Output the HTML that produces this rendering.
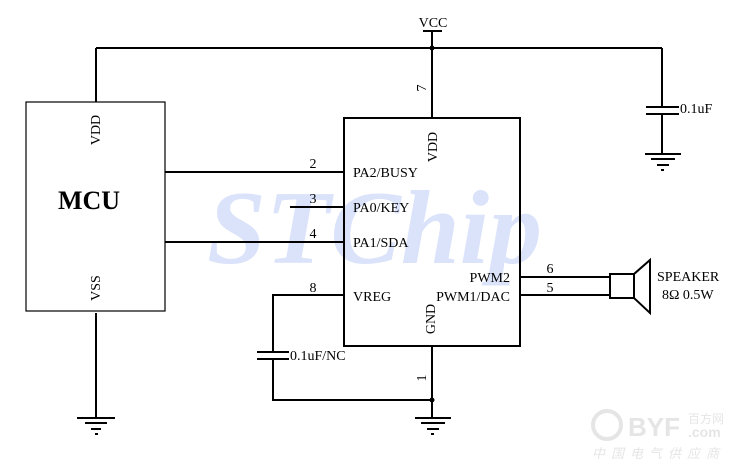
<!DOCTYPE html>
<html><head><meta charset="utf-8"><style>
html,body{margin:0;padding:0;background:#fff;}
svg{display:block;}
text{font-family:"Liberation Serif",serif;font-size:14px;fill:#000;}
</style></head><body>
<svg width="745" height="467" viewBox="0 0 745 467" xmlns="http://www.w3.org/2000/svg">
<!-- watermark -->
<text x="207" y="263" textLength="335" lengthAdjust="spacingAndGlyphs" style="font-family:'Liberation Serif',serif;font-style:italic;font-weight:bold;font-size:105px;fill:#dbe3fb;">STChip</text>
<g fill="none" stroke="#000" stroke-width="2">
<line x1="96" y1="48" x2="662" y2="48"/>
<line x1="423" y1="31" x2="442" y2="31"/>
<line x1="432" y1="31" x2="432" y2="118"/>
<line x1="96" y1="48" x2="96" y2="102"/>
<line x1="662" y1="48" x2="662" y2="107"/>
<line x1="646" y1="107" x2="679" y2="107"/>
<line x1="646" y1="114" x2="679" y2="114"/>
<line x1="662" y1="114" x2="662" y2="154"/>
<line x1="645" y1="154" x2="681" y2="154"/>
<line x1="651" y1="159" x2="675" y2="159"/>
<line x1="657" y1="165" x2="669" y2="165"/>
<line x1="661" y1="170" x2="664" y2="170"/>
<rect x="26" y="102" width="139" height="209" stroke-width="1.2"/>
<line x1="96" y1="313" x2="96" y2="418"/>
<line x1="77" y1="418" x2="115" y2="418"/>
<line x1="85" y1="423" x2="107" y2="423"/>
<line x1="91" y1="429" x2="101" y2="429"/>
<line x1="95" y1="434" x2="98" y2="434"/>
<rect x="344" y="118" width="176" height="228"/>
<line x1="165" y1="172" x2="344" y2="172"/>
<line x1="290" y1="207" x2="344" y2="207"/>
<line x1="165" y1="242" x2="344" y2="242"/>
<polyline points="344,295 273,295 273,352"/>
<line x1="257" y1="352" x2="289" y2="352"/>
<line x1="257" y1="359" x2="289" y2="359"/>
<polyline points="273,359 273,400 432,400"/>
<line x1="432" y1="346" x2="432" y2="418"/>
<line x1="415" y1="418" x2="451" y2="418"/>
<line x1="421" y1="423" x2="445" y2="423"/>
<line x1="427" y1="429" x2="439" y2="429"/>
<line x1="431" y1="434" x2="434" y2="434"/>
<line x1="520" y1="277" x2="610" y2="277"/>
<line x1="520" y1="295" x2="610" y2="295"/>
<rect x="610" y="274" width="24" height="24"/>
<polyline points="634,274 650,260 650,313 634,298"/>
</g>
<circle cx="432" cy="48" r="2.5"/>
<circle cx="432" cy="400" r="2.5"/>
<text x="433" y="27" text-anchor="middle">VCC</text>
<text x="680" y="113">0.1uF</text>
<text x="89" y="209" text-anchor="middle" style="font-weight:bold;font-size:26px;">MCU</text>
<text transform="translate(100 130) rotate(-90)" text-anchor="middle">VDD</text>
<text transform="translate(100 288) rotate(-90)" text-anchor="middle">VSS</text>
<text transform="translate(437 147) rotate(-90)" text-anchor="middle">VDD</text>
<text transform="translate(435 319) rotate(-90)" text-anchor="middle">GND</text>
<text transform="translate(426 88) rotate(-90)" text-anchor="middle">7</text>
<text transform="translate(426 378) rotate(-90)" text-anchor="middle">1</text>
<text x="313" y="168" text-anchor="middle">2</text>
<text x="313" y="203" text-anchor="middle">3</text>
<text x="313" y="238" text-anchor="middle">4</text>
<text x="313" y="292" text-anchor="middle">8</text>
<text x="550" y="273" text-anchor="middle">6</text>
<text x="550" y="292" text-anchor="middle">5</text>
<text x="353" y="177">PA2/BUSY</text>
<text x="353" y="212">PA0/KEY</text>
<text x="353" y="247">PA1/SDA</text>
<text x="353" y="301">VREG</text>
<text x="510" y="282" text-anchor="end">PWM2</text>
<text x="510" y="301" text-anchor="end">PWM1/DAC</text>
<text x="290" y="360">0.1uF/NC</text>
<text x="657" y="281">SPEAKER</text>
<text x="662" y="299">8Ω 0.5W</text>
<g opacity="0.5">
<circle cx="607" cy="425" r="14" fill="none" stroke="#ccc" stroke-width="4"/>
<text x="628" y="436" style="font-family:'Liberation Sans',sans-serif;font-weight:bold;font-size:26px;fill:#ccc;">BYF</text>
<text x="688" y="423" style="font-family:'Noto Sans CJK SC',sans-serif;font-size:12px;fill:#ccc;">百方网</text>
<text x="688" y="437" style="font-family:'Liberation Sans',sans-serif;font-weight:bold;font-size:14px;fill:#ccc;">.com</text>
<text x="592" y="458" style="font-family:'Noto Sans CJK SC',sans-serif;font-size:13px;fill:#ccc;letter-spacing:6px;font-style:italic;">中国电气供应商</text>
</g>
</svg>
</body></html>
